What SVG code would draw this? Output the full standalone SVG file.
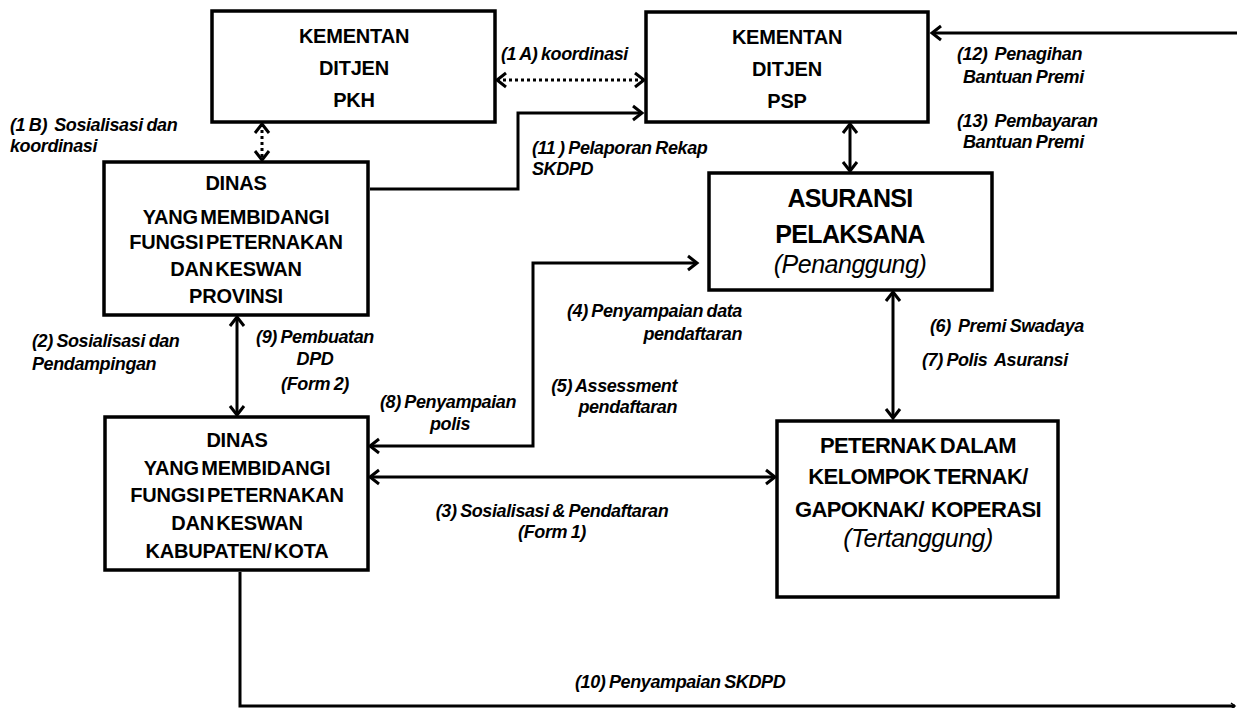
<svg xmlns="http://www.w3.org/2000/svg" width="1237" height="708" viewBox="0 0 1237 708">
<style>
text{white-space:pre}
.box{fill:#fff;stroke:#000;stroke-width:3.5}
.nt{font-family:"Liberation Sans",Arial,sans-serif;font-weight:bold;font-size:20px;letter-spacing:-0.2px;word-spacing:-3px;text-anchor:middle;fill:#000}
.nt2{font-family:"Liberation Sans",Arial,sans-serif;font-weight:bold;font-size:25px;letter-spacing:-0.7px;text-anchor:middle;fill:#000}
.nt3{font-family:"Liberation Sans",Arial,sans-serif;font-weight:bold;font-size:22px;letter-spacing:-0.6px;word-spacing:-2px;text-anchor:middle;fill:#000}
.ni{font-family:"Liberation Sans",Arial,sans-serif;font-style:italic;font-size:25px;letter-spacing:-0.5px;text-anchor:middle;fill:#000}
.lb{font-family:"Liberation Sans",Arial,sans-serif;font-weight:bold;font-style:italic;font-size:18px;letter-spacing:-0.4px;word-spacing:-1px;fill:#000}
.c{text-anchor:middle}
.e{text-anchor:end}
.ln{fill:none;stroke:#000;stroke-width:3}
.dot{fill:none;stroke:#000;stroke-width:3;stroke-dasharray:3 3}
</style>
<defs>
<marker id="ah" markerUnits="userSpaceOnUse" markerWidth="20" markerHeight="20" viewBox="-12 -10 14 20" refX="0" refY="0" orient="auto-start-reverse">
<path d="M-9,-7 L0,0 L-9,7" fill="none" stroke="#000" stroke-width="3"/>
</marker>
<marker id="ahs" markerUnits="userSpaceOnUse" markerWidth="10" markerHeight="10" viewBox="-6 -5 7 10" refX="0" refY="0" orient="auto">
<path d="M-4,-3 L0,0 L-4,3" fill="none" stroke="#000" stroke-width="1.5"/>
</marker>
</defs>
<rect width="1237" height="708" fill="#fff"/>
<g id="connectors">
<line class="dot" x1="497" y1="80" x2="644" y2="80" marker-start="url(#ah)" marker-end="url(#ah)"/>
<line class="dot" x1="262" y1="124" x2="262" y2="160" marker-start="url(#ah)" marker-end="url(#ah)"/>
<path class="ln" d="M370,189 H518 V113 H642" marker-end="url(#ah)"/>
<line class="ln" x1="850" y1="124" x2="850" y2="171" marker-start="url(#ah)" marker-end="url(#ah)"/>
<line class="ln" x1="893" y1="292" x2="893" y2="418" marker-start="url(#ah)" marker-end="url(#ah)"/>
<line class="ln" x1="237" y1="317" x2="237" y2="415" marker-start="url(#ah)" marker-end="url(#ah)"/>
<path class="ln" d="M370,446 H533 V263 H697" marker-start="url(#ah)" marker-end="url(#ah)"/>
<line class="ln" x1="370" y1="477" x2="775" y2="477" marker-start="url(#ah)" marker-end="url(#ah)"/>
<line class="ln" x1="1237" y1="33" x2="932" y2="33" stroke-width="2.5" marker-end="url(#ah)"/>
<path class="ln" d="M240,572 V706 H1235" stroke-width="2.2" marker-end="url(#ahs)"/>
</g>
<g id="pkh">
<rect class="box" x="212" y="11" width="283" height="111"/>
<text class="nt" x="354" y="43">KEMENTAN</text>
<text class="nt" x="354" y="75">DITJEN</text>
<text class="nt" x="354" y="107">PKH</text>
</g>
<g id="psp">
<rect class="box" x="646" y="12" width="282" height="110"/>
<text class="nt" x="787" y="44">KEMENTAN</text>
<text class="nt" x="787" y="76">DITJEN</text>
<text class="nt" x="787" y="108">PSP</text>
</g>
<g id="provinsi">
<rect class="box" x="104" y="162" width="264" height="153"/>
<text class="nt" x="236" y="190">DINAS</text>
<text class="nt" x="236" y="224">YANG MEMBIDANGI</text>
<text class="nt" x="236" y="249">FUNGSI PETERNAKAN</text>
<text class="nt" x="236" y="276">DAN KESWAN</text>
<text class="nt" x="236" y="303">PROVINSI</text>
</g>
<g id="asuransi">
<rect class="box" x="709" y="173" width="283" height="117"/>
<text class="nt2" x="850" y="207">ASURANSI</text>
<text class="nt2" x="850" y="243">PELAKSANA</text>
<text class="ni" x="850" y="273">(Penanggung)</text>
</g>
<g id="kabupaten">
<rect class="box" x="105" y="417" width="263" height="153"/>
<text class="nt" x="237" y="447">DINAS</text>
<text class="nt" x="237" y="475">YANG MEMBIDANGI</text>
<text class="nt" x="237" y="502">FUNGSI PETERNAKAN</text>
<text class="nt" x="237" y="530">DAN KESWAN</text>
<text class="nt" x="237" y="558">KABUPATEN/ KOTA</text>
</g>
<g id="peternak">
<rect class="box" x="777" y="421" width="281" height="176"/>
<text class="nt3" x="918" y="453">PETERNAK DALAM</text>
<text class="nt3" x="918" y="484">KELOMPOK TERNAK/</text>
<text class="nt3" x="918" y="517">GAPOKNAK/  KOPERASI</text>
<text class="ni" x="918" y="547">(Tertanggung)</text>
</g>
<g id="labels">
<text class="lb" x="10" y="131">(1 B)  Sosialisasi dan</text>
<text class="lb" x="10" y="152">koordinasi</text>
<text class="lb" x="501" y="60">(1 A) koordinasi</text>
<text class="lb" x="532" y="154">(11 ) Pelaporan Rekap</text>
<text class="lb" x="532" y="175">SKDPD</text>
<text class="lb" x="957" y="60">(12)  Penagihan</text>
<text class="lb" x="963" y="83">Bantuan Premi</text>
<text class="lb" x="957" y="127">(13)  Pembayaran</text>
<text class="lb" x="963" y="148">Bantuan Premi</text>
<text class="lb" x="32" y="347">(2) Sosialisasi dan</text>
<text class="lb" x="32" y="370">Pendampingan</text>
<text class="lb c" x="315" y="343">(9) Pembuatan</text>
<text class="lb c" x="315" y="365">DPD</text>
<text class="lb c" x="315" y="390">(Form 2)</text>
<text class="lb c" x="448" y="408">(8) Penyampaian</text>
<text class="lb c" x="450" y="430">polis</text>
<text class="lb e" x="742" y="317">(4) Penyampaian data</text>
<text class="lb e" x="742" y="340">pendaftaran</text>
<text class="lb e" x="677" y="392">(5) Assessment</text>
<text class="lb e" x="677" y="413">pendaftaran</text>
<text class="lb" x="930" y="332">(6)  Premi Swadaya</text>
<text class="lb" x="922" y="366">(7) Polis  Asuransi</text>
<text class="lb c" x="552" y="517">(3) Sosialisasi &amp; Pendaftaran</text>
<text class="lb c" x="552" y="538">(Form 1)</text>
<text class="lb" x="575" y="688">(10) Penyampaian SKDPD</text>
</g>
</svg>
